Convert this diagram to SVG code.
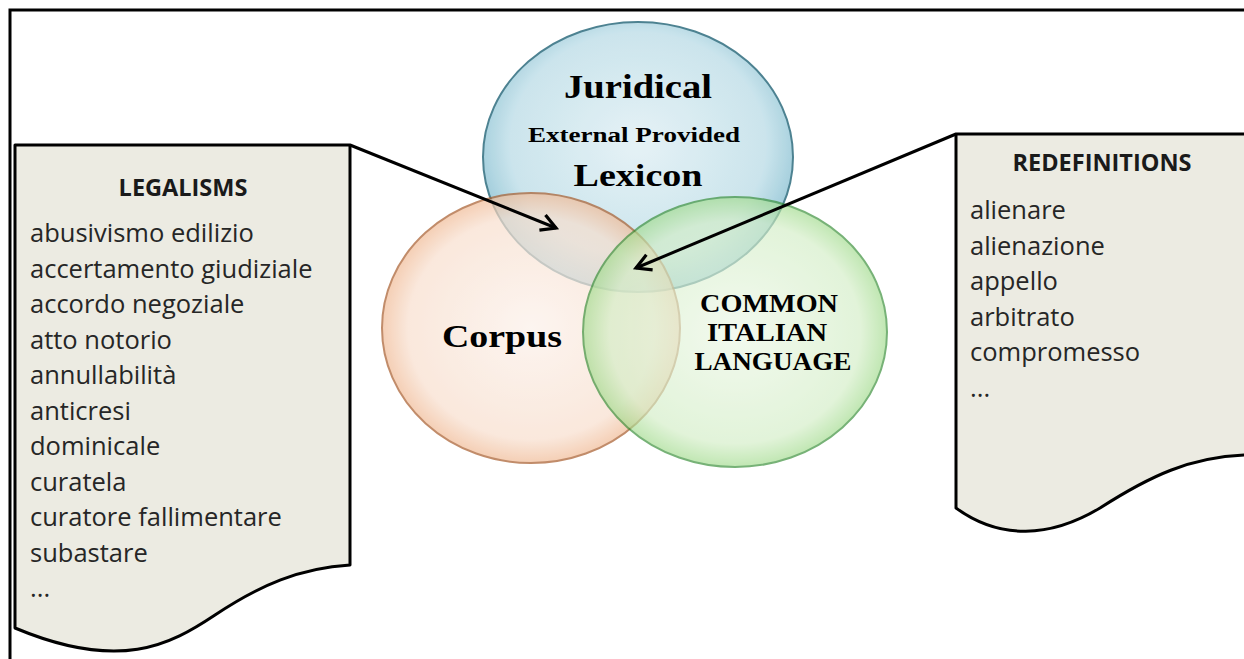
<svg xmlns="http://www.w3.org/2000/svg" width="1244" height="659" viewBox="0 0 1244 659">
<defs>
<style>
.frame{fill:none;stroke:#000;stroke-width:3}
.doc{fill:#ecebe2;stroke:#000;stroke-width:3;stroke-linejoin:round}
.conn{fill:none;stroke:#000;stroke-width:3}
.item{font-family:"Open Sans","Liberation Sans",sans-serif;font-size:25.5px;fill:#262626}
.head{font-family:"Open Sans","Liberation Sans",sans-serif;font-size:23.5px;font-weight:bold;fill:#1a1a1a;text-anchor:middle}
.ser{font-family:"Liberation Serif","Times New Roman",serif;font-weight:bold;fill:#000;text-anchor:middle}
</style>
<radialGradient id="gBlue" cx="50%" cy="45%" r="55%">
<stop offset="0" stop-color="#e3f1f5"/><stop offset="0.75" stop-color="#c6e2eb"/><stop offset="1" stop-color="#8cc2d3"/>
</radialGradient>
<radialGradient id="gOrange" cx="50%" cy="50%" r="55%">
<stop offset="0" stop-color="#fcf1ea"/><stop offset="0.75" stop-color="#f8dfce"/><stop offset="1" stop-color="#eda676"/>
</radialGradient>
<radialGradient id="gGreen" cx="50%" cy="50%" r="55%">
<stop offset="0" stop-color="#ecf7e6"/><stop offset="0.75" stop-color="#d3eec6"/><stop offset="1" stop-color="#82cf68"/>
</radialGradient>
<marker id="arr" viewBox="0 0 12 12" refX="10" refY="6" markerWidth="6.5" markerHeight="6.5" orient="auto" markerUnits="strokeWidth">
<path d="M1,1 L10,6 L1,11" fill="none" stroke="#000" stroke-width="2"/>
</marker>
</defs>
<rect width="1244" height="659" fill="#fff"/>
<path class="frame" d="M10,659 V10 H1244"/>

<g id="legalisms">
<path class="doc" d="M15,145 H350 V565 C300,568 260,585 215,615 C170,645 120,672 15,628 Z"/>
<text class="head" x="183" y="196">LEGALISMS</text>
<text class="item" x="30" y="242">abusivismo edilizio</text>
<text class="item" x="30" y="277.5">accertamento giudiziale</text>
<text class="item" x="30" y="313">accordo negoziale</text>
<text class="item" x="30" y="348.5">atto notorio</text>
<text class="item" x="30" y="384">annullabilità</text>
<text class="item" x="30" y="419.5">anticresi</text>
<text class="item" x="30" y="455">dominicale</text>
<text class="item" x="30" y="490.5">curatela</text>
<text class="item" x="30" y="526">curatore fallimentare</text>
<text class="item" x="30" y="561.5">subastare</text>
<text class="item" x="30" y="597">...</text>
</g>

<g id="redefinitions">
<path class="doc" d="M1246,134 H956 V508 C1000,540 1050,538 1100,508 C1150,476 1190,457 1246,455"/>
<text class="head" x="1102" y="171" font-size="24">REDEFINITIONS</text>
<text class="item" x="970" y="219">alienare</text>
<text class="item" x="970" y="254.5">alienazione</text>
<text class="item" x="970" y="290">appello</text>
<text class="item" x="970" y="325.5">arbitrato</text>
<text class="item" x="970" y="361">compromesso</text>
<text class="item" x="970" y="396.5">...</text>
</g>

<g id="juridical">
<ellipse cx="638" cy="157" rx="155" ry="135" fill="url(#gBlue)" stroke="#3a7586" stroke-width="2" opacity="0.9"/>
<text class="ser" x="638" y="98" font-size="33" textLength="148" lengthAdjust="spacingAndGlyphs">Juridical</text>
<text class="ser" x="634" y="142" font-size="20" textLength="212" lengthAdjust="spacingAndGlyphs">External Provided</text>
<text class="ser" x="638" y="186" font-size="32" textLength="129" lengthAdjust="spacingAndGlyphs">Lexicon</text>
</g>

<g id="corpus">
<ellipse cx="531" cy="328" rx="149" ry="135" fill="url(#gOrange)" stroke="#a85c2c" stroke-width="2" opacity="0.7"/>
<text class="ser" x="502" y="347" font-size="32" textLength="120" lengthAdjust="spacingAndGlyphs">Corpus</text>
</g>

<g id="common">
<ellipse cx="735" cy="332" rx="152" ry="135" fill="url(#gGreen)" stroke="#2f8a2f" stroke-width="2" opacity="0.65"/>
<text class="ser" x="769" y="312" font-size="26" textLength="138" lengthAdjust="spacingAndGlyphs">COMMON</text>
<text class="ser" x="767" y="341" font-size="26" textLength="120" lengthAdjust="spacingAndGlyphs">ITALIAN</text>
<text class="ser" x="773" y="370" font-size="26" textLength="157" lengthAdjust="spacingAndGlyphs">LANGUAGE</text>
</g>

<g id="connectors">
<path class="conn" d="M350,145 L556,228" marker-end="url(#arr)"/>
<path class="conn" d="M956,134 L636,268" marker-end="url(#arr)"/>
</g>
</svg>
